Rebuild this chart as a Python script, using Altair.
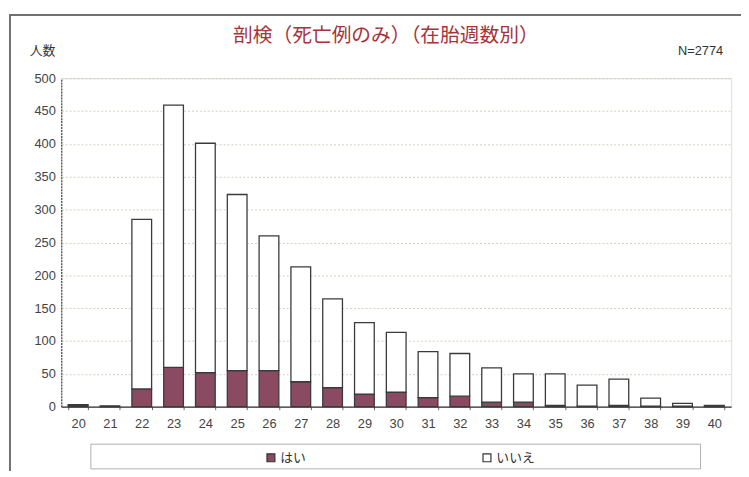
import altair as alt
import pandas as pd

weeks = [str(w) for w in range(20, 41)]
hai = [2, 1, 27, 60, 52, 55, 55, 38, 29, 19, 22, 14, 16, 7, 7, 2, 1, 2, 1, 1, 1]
iie = [1, 0, 258, 399, 349, 268, 205, 175, 135, 109, 91, 70, 65, 52, 43, 48, 32, 40, 12, 4, 1]
categories = ["はい", "いいえ"]
colors = ["#8a4a62", "#ffffff"]
title_text = "剖検（死亡例のみ）（在胎週数別）"
ylabel_text = "人数"
n_text = "N=2774"

rows = []
for w, a, b in zip(weeks, hai, iie):
    rows.append({"week": w, "cat": categories[0], "idx": 0, "n": a})
    rows.append({"week": w, "cat": categories[1], "idx": 1, "n": b})
df = pd.DataFrame(rows)

JP = "Noto Sans CJK JP"
NUM = "Liberation Sans"

frame = alt.Chart(pd.DataFrame({"a": [0]})).mark_rect(
    filled=False, stroke="#707070", strokeWidth=2
).encode(x=alt.value(-52), x2=alt.value(720), y=alt.value(-64), y2=alt.value(420))

legend_box = alt.Chart(pd.DataFrame({"a": [0]})).mark_rect(
    filled=False, stroke="#b0b0b0", strokeWidth=1
).encode(x=alt.value(30), x2=alt.value(648), y=alt.value(371), y2=alt.value(396))

bars = alt.Chart(df).mark_bar(stroke="#3a3a3a", strokeWidth=1.3).encode(
    x=alt.X("week:N", sort=weeks, title=None,
            scale=alt.Scale(paddingInner=0.38, paddingOuter=0.22),
            axis=alt.Axis(labelAngle=0, labelFont=NUM, labelFontSize=13, labelColor="#444",
                          labelPadding=8, domainColor="#333", domainWidth=1.2,
                          tickColor="#666", tickSize=3, tickBand="extent", grid=False)),
    y=alt.Y("n:Q", stack="zero", title=None,
            scale=alt.Scale(domain=[0, 500], nice=False),
            axis=alt.Axis(values=list(range(0, 501, 50)), labelFont=NUM, labelFontSize=13,
                          labelColor="#444", labelPadding=6, ticks=False,
                          domainColor="#444", domainDash=[2, 1], domainWidth=1.2,
                          grid=True, gridColor="#cfcfbd", gridDash=[2, 2], gridWidth=1)),
    color=alt.Color("cat:N", sort=categories,
                    scale=alt.Scale(domain=categories, range=colors),
                    legend=alt.Legend(title=None, orient="none", direction="horizontal",
                                      legendX=206, legendY=378, symbolType="square",
                                      symbolSize=64, symbolStrokeColor="#333",
                                      symbolStrokeWidth=1.2, labelFont=JP, labelFontSize=13,
                                      labelColor="#333", labelOffset=3, columnPadding=176,
                                      padding=0)),
    order=alt.Order("idx:Q", sort="ascending"),
)

def label(txt, x, y, size, color, font, weight="normal"):
    return alt.Chart(pd.DataFrame({"t": [txt]})).mark_text(
        fontSize=size, color=color, font=font, fontWeight=weight, align="center", baseline="middle"
    ).encode(x=alt.value(x), y=alt.value(y), text="t:N")

title = label(title_text, 329, -43, 20, "#a8323a", JP)
ylab = label(ylabel_text, -19, -28, 13, "#333", JP)
ntxt = label(n_text, 648, -28, 13, "#333", NUM)

chart = alt.layer(frame, legend_box, bars, title, ylab, ntxt).properties(
    width=679, height=333,
    autosize=alt.AutoSizeParams(type="none"),
    padding={"left": 54, "top": 68, "right": 10, "bottom": 62},
).configure_view(stroke="#555", strokeDash=[2, 1], strokeWidth=1.2).configure(background="white")

chart.save("out.html", embed_options={"renderer": "svg", "actions": False})
